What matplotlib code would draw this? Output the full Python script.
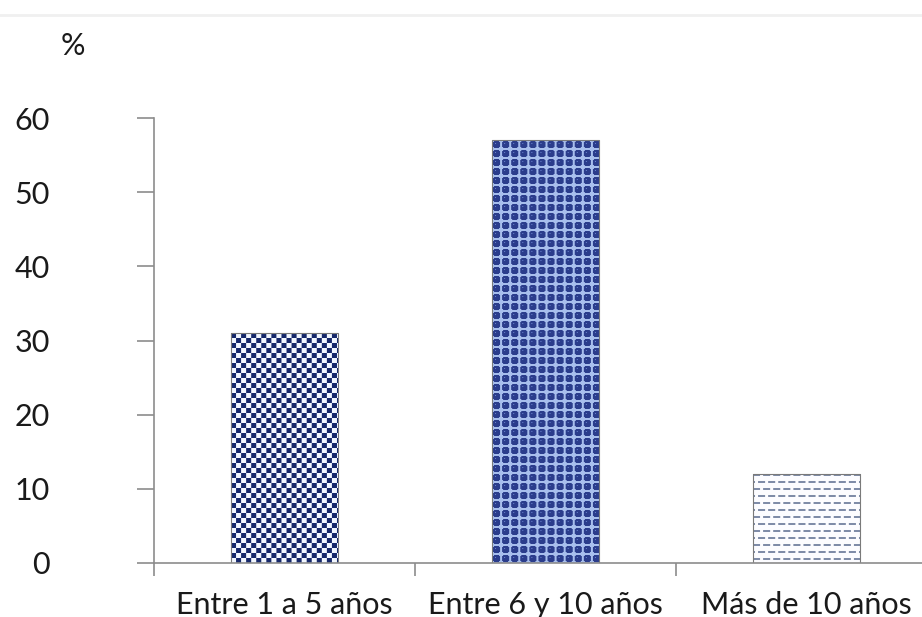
import numpy as np
import matplotlib
matplotlib.use("Agg")
import matplotlib.pyplot as plt

categories = ["Entre 1 a 5 años", "Entre 6 y 10 años", "Más de 10 años"]
values = [31, 57, 12]
yticks = [0, 10, 20, 30, 40, 50, 60]
ylabel = "%"

plt.rcParams['font.family'] = ['Lato', 'DejaVu Sans']

W, H = 922, 617
fig = plt.figure(figsize=(W/100, H/100), dpi=100)
fig.patch.set_facecolor('white')

left, right = 154, 937
bottom, top = 563, 118
ax = fig.add_axes([left/W, 1 - bottom/H, (right-left)/W, (bottom-top)/H])

x = np.arange(len(categories))
bars = ax.bar(x, values, width=0.41, facecolor='none', edgecolor='#7a7a7a', linewidth=0.8, zorder=2)
ax.set_xlim(-0.5, len(categories) - 0.5)
ax.set_ylim(0, 60)

# patterns
def checker(h, w):
    yy, xx = np.mgrid[0:h, 0:w]
    m = ((xx // 5) + (yy // 5)) % 2 == 0
    img = np.empty((h, w, 3))
    img[:] = np.array([0.95, 0.97, 1.0])
    img[m] = np.array([0.09, 0.16, 0.42])
    return img

def dots(h, w):
    yy, xx = np.mgrid[0:h, 0:w]
    px = 9.0
    dx = (xx % px) - px/2 + 0.5
    dy = (yy % px) - px/2 + 0.5
    r = np.sqrt(dx**2 + dy**2)
    img = np.empty((h, w, 3))
    img[:] = np.array([0.66, 0.75, 0.93])
    img[r < 3.9] = np.array([0.17, 0.24, 0.55])
    img[(r < 1.6) & (dx < 0) & (dy < 0)] = np.array([0.42, 0.52, 0.82])
    return img

def dashes(h, w):
    yy, xx = np.mgrid[0:h, 0:w]
    row = yy // 7
    shift = (row % 2) * 5
    m = (((xx + shift) % 10) < 7) & ((yy % 7) < 2)
    img = np.empty((h, w, 3))
    img[:] = np.array([0.99, 0.99, 1.0])
    img[m] = np.array([0.50, 0.55, 0.66])
    return img

patterns = [checker, dots, dashes]
fig.canvas.draw()
for b, pat in zip(bars, patterns):
    bb = b.get_window_extent()
    w = max(int(round(bb.width)), 1)
    h = max(int(round(bb.height)), 1)
    img = pat(h, w)
    im = ax.imshow(img, extent=(b.get_x(), b.get_x() + b.get_width(), 0, b.get_height()),
                   aspect='auto', interpolation='bilinear', zorder=1.5, origin='upper')
    im.set_clip_path(b)

ax.set_xlim(-0.5, len(categories) - 0.5)
ax.set_ylim(0, 60)

for s in ['top', 'right']:
    ax.spines[s].set_visible(False)
for s in ['left', 'bottom']:
    ax.spines[s].set_color('#8c8c8c')
    ax.spines[s].set_linewidth(1.2)
    ax.spines[s].set_zorder(3)

ax.set_yticks(yticks)
ax.set_yticklabels([str(t) for t in yticks])
ax.tick_params(axis='y', length=12, width=1.2, color='#8c8c8c', pad=63, labelsize=22, labelcolor='#1a1a1a')
for lab in ax.get_yticklabels():
    lab.set_horizontalalignment('right')

ax.set_xticks(x)
ax.set_xticklabels(categories)
ax.tick_params(axis='x', which='major', length=0, pad=20, labelsize=22, labelcolor='#1a1a1a')
ax.set_xticks(np.arange(-0.5, len(categories)), minor=True)
ax.tick_params(axis='x', which='minor', length=9, width=1.2, color='#8c8c8c')

fig.text(73/W, 1 - 46/H, ylabel, fontsize=22, ha='center', va='center', color='#1a1a1a')
fig.add_artist(plt.Line2D([0, 1], [1 - 15/H, 1 - 15/H], color='#f0f0f0', lw=2))

fig.savefig('out.png', dpi=100, facecolor='white')
